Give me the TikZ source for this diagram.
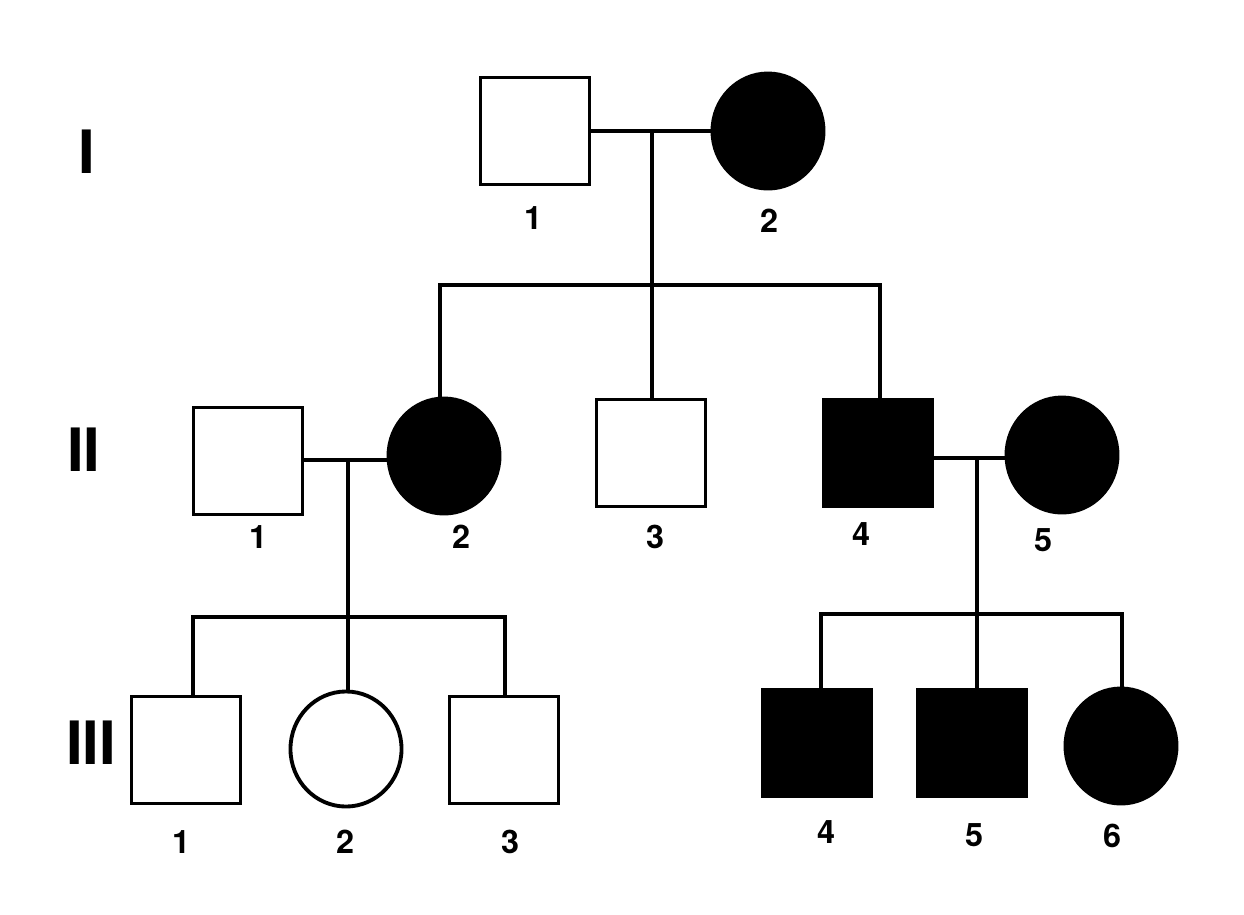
\documentclass[tikz,border=0pt]{standalone}
\usepackage{fontspec}
\setsansfont{TeX Gyre Heros}
\usetikzlibrary{shapes.geometric}

\begin{document}
\begin{tikzpicture}[x=0.01cm, y=-0.01cm,
    line width=1.1pt,
    male/.style={draw, rectangle, minimum width=1.09cm,
        minimum height=1.07cm, inner sep=0pt},
    female/.style={draw, ellipse, minimum width=1.11cm,
        minimum height=1.15cm, inner sep=0pt},
    affected/.style={fill=black},
    num/.style={font=\sffamily\bfseries\fontsize{9.2}{10}\selectfont,
        inner sep=0pt},
    gen/.style={font=\sffamily\bfseries\fontsize{17}{18}\selectfont,
        inner sep=0pt}]
    \useasboundingbox (0,0) rectangle (1244,914);

    % generation I
    \node[gen] (g1) at (87,152) {I};
    \node[male] (i1) at (535,131) {};
    \node[female,affected] (i2) at (768,131) {};
    \node[num] (n-i1) at (533,218) {1};
    \node[num] (n-i2) at (769,221) {2};

    % generation II
    \node[gen] (g2) at (84,450) {II};
    \node[male] (ii1) at (248,461) {};
    \node[female,affected] (ii2) at (444,456) {};
    \node[male] (ii3) at (651,453) {};
    \node[male,affected] (ii4) at (878,453) {};
    \node[female,affected] (ii5) at (1062,455) {};
    \node[num] (n-ii1) at (258,537) {1};
    \node[num] (n-ii2) at (461,537) {2};
    \node[num] (n-ii3) at (655,537) {3};
    \node[num] (n-ii4) at (861,534) {4};
    \node[num] (n-ii5) at (1043,540) {5};

    % generation III
    \node[gen] (g3) at (91,743) {III};
    \node[male] (iii1) at (186,750) {};
    \node[female] (iii2) at (346,749) {};
    \node[male] (iii3) at (504,750) {};
    \node[male,affected] (iii4) at (817,743) {};
    \node[male,affected] (iii5) at (972,743) {};
    \node[female,affected] (iii6) at (1121,746) {};
    \node[num] (n-iii1) at (181,842) {1};
    \node[num] (n-iii2) at (345,842) {2};
    \node[num] (n-iii3) at (510,842) {3};
    \node[num] (n-iii4) at (826,832) {4};
    \node[num] (n-iii5) at (974,835) {5};
    \node[num] (n-iii6) at (1112,836) {6};

    \coordinate (m1) at (652,131);
    \coordinate (s1) at (652,285);
    \coordinate (s1l) at (440,285);
    \coordinate (s1r) at (880,285);
    \coordinate (m2) at (348,460);
    \coordinate (s2) at (348,617);
    \coordinate (s2l) at (193,617);
    \coordinate (s2r) at (505,617);
    \coordinate (m3) at (977,458);
    \coordinate (s3) at (977,614);
    \coordinate (s3l) at (821,614);
    \coordinate (s3r) at (1122,614);

    \draw (i1.east |- m1) -- (i2.west |- m1);
    \draw (m1) -- (s1);
    \draw (ii2.north -| s1l) -- (s1l) -- (s1r) -- (ii4.north -| s1r);
    \draw (s1) -- (ii3.north -| s1);

    \draw (ii1.east |- m2) -- (ii2.west |- m2);
    \draw (m2) -- (s2);
    \draw (iii1.north -| s2l) -- (s2l) -- (s2r) -- (iii3.north -| s2r);
    \draw (s2) -- (iii2.north -| s2);

    \draw (ii4.east |- m3) -- (ii5.west |- m3);
    \draw (m3) -- (s3);
    \draw (iii4.north -| s3l) -- (s3l) -- (s3r) -- (iii6.north -| s3r);
    \draw (s3) -- (iii5.north -| s3);

\end{tikzpicture}
\end{document}
